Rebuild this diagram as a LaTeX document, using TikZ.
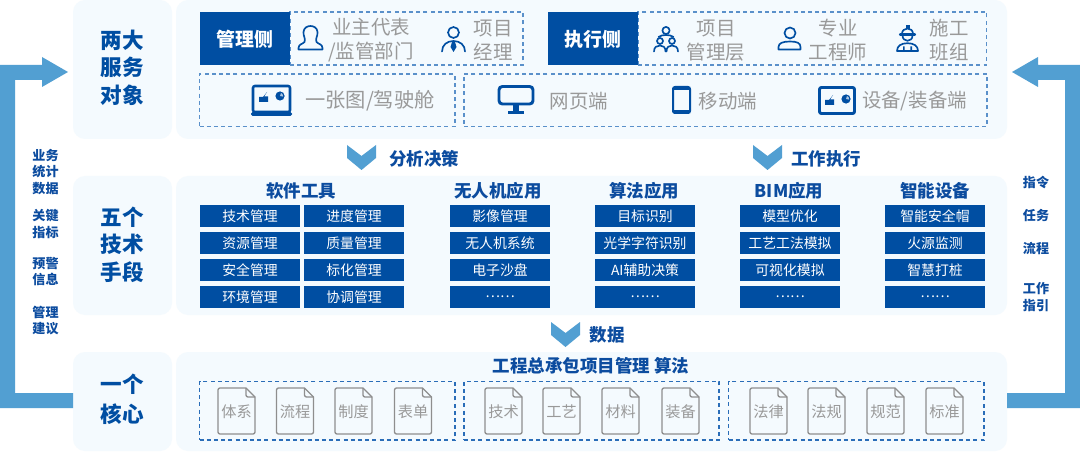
\documentclass[tikz,border=0pt]{standalone}
\usepackage{fontspec}
\setmainfont{Noto Sans CJK SC}
\usetikzlibrary{calc}
\definecolor{panelc}{HTML}{F4FAFE}
\definecolor{bluec}{HTML}{004EA2}
\definecolor{arrowc}{HTML}{529FD2}
\definecolor{greyc}{HTML}{999999}
\definecolor{docc}{HTML}{8E8E8E}
\definecolor{headc}{HTML}{0C4C9F}
\definecolor{dashc}{HTML}{5A90CA}
\definecolor{dashd}{HTML}{2A6DB8}
\newcommand\fpx[2]{\fontsize{#1}{#2}\selectfont}
\newcommand\rbox[6]{\node[#1,minimum width={(#5-#3)*0.75pt},minimum height={(#6-#4)*0.75pt}] (#2) at ({(#3+#5)/2},{(#4+#6)/2}) {};}
\newcommand\txt[5]{\node[#1] (#2) at (#3,#4) {#5};}
\newcommand\cellbox[4]{\node[cellnode,minimum width=75pt,minimum height=16.5pt] (#1) at (#2,#3) {#4};}
\newcommand\docicon[4]{% name, left x, top y, text
  \draw[docline] (#2+2,#3) -- (#2+28,#3) -- (#2+37,#3+9) -- (#2+37,#3+44) arc[start angle=0,end angle=90,radius=2] -- (#2+2,#3+46) arc[start angle=90,end angle=180,radius=2] -- (#2,#3+2) arc[start angle=180,end angle=270,radius=2] -- cycle;
  \draw[docline] (#2+28,#3) -- (#2+28,#3+7) arc[start angle=180,end angle=90,radius=2] -- (#2+37,#3+9);
  \node[doctext] (#1) at (#2+18.5,#3+24) {#4};
}
\newcommand\chartglyph[2]{% x,y = lower-left of stairs
  \fill[bluec] (#1,#2) -- (#1,#2-5) -- (#1+4,#2-5) -- (#1+8,#2-10) -- (#1+5,#2-5.5) -- (#1+9,#2-5.5) -- (#1+9,#2) -- cycle;
  \fill[bluec] (#1+21,#2-6) circle[radius=4.6];
  \fill[panelc!70!bluec] (#1+21,#2-6) -- ++(1,-3) arc[start angle=-70,end angle=10,radius=3.2] -- cycle;
}
\tikzset{
  x=0.75pt,y=-0.75pt,
  every node/.style={inner sep=0pt,outer sep=0pt},
  panelbox/.style={fill=panelc,rounded corners=9pt},
  dashbox/.style={draw=dashc,line width=0.8pt,dash pattern=on 3pt off 2.4pt},
  dashboxb/.style={draw=dashd,line width=0.8pt,dash pattern=on 3pt off 2.4pt},
  sidebox/.style={fill=bluec},
  sidetext/.style={text=white,font=\fpx{14.2pt}{16pt}\bfseries},
  titletext/.style={text=bluec,align=center,font=\fpx{16.2pt}{20.6pt}\bfseries},
  greytext/.style={text=greyc,align=center,font=\fpx{14.6pt}{18pt}},
  headtext/.style={text=headc,font=\fpx{13.1pt}{15pt}\bfseries},
  smalltext/.style={text=headc,align=center,font=\fpx{9.8pt}{12.2pt}\bfseries},
  cellnode/.style={fill=bluec,text=white,font=\fpx{10.4pt}{12pt}},
  docline/.style={draw=docc,line width=1pt,line join=round},
  doctext/.style={text=greyc,font=\fpx{11.4pt}{13pt}},
  icon/.style={draw=bluec,line width=1.25pt,line cap=round,line join=round},
}
\begin{document}
\begin{tikzpicture}
\useasboundingbox (0,0) rectangle (1080,452);
\fill[white] (0,0) rectangle (1080,452);
% panels
\rbox{panelbox}{serveL}{73}{0}{172}{139}
\rbox{panelbox}{serveR}{176}{0}{1007}{139}
\rbox{panelbox}{techL}{73}{176}{172}{315}
\rbox{panelbox}{techR}{176}{176}{1007}{315}
\rbox{panelbox}{coreL}{73}{352}{172}{451}
\rbox{panelbox}{coreR}{176}{352}{1007}{451}
% big arrows
\fill[arrowc] (coreL.west |- 0,393) -- (15,393) -- (15,80) -- (42,80) -- (42,87) -- (68,72) -- (42,57) -- (42,65) -- (0,65) -- (0,408) -- (coreL.west |- 0,408) -- cycle;
\fill[arrowc] (coreR.east |- 0,393) -- (1065,393) -- (1065,80) -- (1038,80) -- (1038,87) -- (1012,72) -- (1038,57) -- (1038,65) -- (1080,65) -- (1080,408) -- (coreR.east |- 0,408) -- cycle;
% chevrons
\fill[arrowc] (347,145) -- (361.5,156) -- (376,145) -- (376,158) -- (361.5,170) -- (347,158) -- cycle;
\fill[arrowc] (753,145) -- (767.5,156) -- (782,145) -- (782,158) -- (767.5,170) -- (753,158) -- cycle;
\fill[arrowc] (551,322) -- (565.5,333) -- (580,322) -- (580,335) -- (565.5,347) -- (551,335) -- cycle;
% left titles
\txt{titletext}{tA}{122}{67.5}{两大\\服务\\对象}
\txt{titletext}{tB}{122}{244.5}{五个\\技术\\手段}
\node[titletext,font=\fpx{16.2pt}{22.5pt}\bfseries] (tC) at (122,399) {一个\\核心};
% top row
\rbox{dashbox}{mgmtbox}{290}{12}{523}{65}
\rbox{dashbox}{execbox}{638}{12}{986.5}{65}
\node[sidebox,minimum width=67.5pt,minimum height=39.75pt] (mgmt) at (245,38.5) {};
\node[sidebox,minimum width=67.5pt,minimum height=39.75pt] (exec) at (593,38.5) {};
\txt{sidetext}{mgmtT}{245}{39}{管理侧}
\txt{sidetext}{execT}{593}{39}{执行侧}
\txt{greytext}{g1}{371}{40.5}{业主代表\\/监管部门}
\txt{greytext}{g2}{493}{40.5}{项目\\经理}
\txt{greytext}{g3}{716}{40.5}{项目\\管理层}
\txt{greytext}{g4}{838}{40.5}{专业\\工程师}
\txt{greytext}{g5}{949}{40.5}{施工\\班组}
% second row
\rbox{dashbox}{termA}{199.5}{74}{455}{126.5}
\rbox{dashbox}{termB}{464}{74}{987}{126.5}
\node[greytext,font=\fpx{15.2pt}{18pt}] (s1) at (370,100.5) {一张图/驾驶舱};
\txt{greytext}{s2}{579}{101}{网页端}
\txt{greytext}{s3}{728}{101}{移动端}
\txt{greytext}{s4}{914.5}{101}{设备/装备端}
% person icons
\draw[icon] (304.5,42) .. controls (306,38.5) and (303,36) .. (303.5,32) .. controls (304,24) and (317,24) .. (317.5,32) .. controls (318,36) and (315,38.5) .. (316.5,42) .. controls (318,44) and (322.5,44) .. (322.5,48) -- (322.5,49.5) -- (298.5,49.5) -- (298.5,48) .. controls (298.5,44) and (303,44) .. (304.5,42) -- cycle;
\draw[icon] (453.5,32.5) circle[radius=5.5];
\draw[icon] (442,51.5) .. controls (442,45) and (447,41) .. (453.5,41) .. controls (460,41) and (465,45) .. (465,51.5);
\fill[bluec] (452.3,41) -- (454.7,41) -- (456.5,47) -- (453.5,52) -- (450.5,47) -- cycle;
% three people
\draw[icon] (666,30.5) circle[radius=3.6];
\draw[icon] (660,41) circle[radius=3];
\draw[icon] (672,41) circle[radius=3];
\draw[icon] (654,51.5) .. controls (654,47) and (657,45.5) .. (660,45.5) .. controls (663,45.5) and (665.5,47) .. (665.5,51.5);
\draw[icon] (666.5,51.5) .. controls (666.5,47) and (669,45.5) .. (672,45.5) .. controls (675,45.5) and (678,47) .. (678,51.5);
\draw[icon] (658.5,37) .. controls (660.5,35.5) and (663,35) .. (666,35) .. controls (669,35) and (671.5,35.5) .. (673.5,37);
% engineer
\draw[icon] (790,33) circle[radius=5.5];
\draw[icon] (778.5,49.5) -- (778.5,47) .. controls (778.5,43) and (783,41.5) .. (790,41.5) .. controls (797,41.5) and (800.5,43) .. (800.5,47) -- (800.5,49.5) -- cycle;
% worker
\fill[bluec] (905.5,25.5) rectangle (909.5,29);
\draw[icon] (902,34) .. controls (902,30.5) and (904.5,28.5) .. (907.5,28.5) .. controls (910.5,28.5) and (913,30.5) .. (913,34);
\draw[bluec,line width=1.6pt,line cap=round] (900,34.5) -- (915,34.5);
\draw[icon] (902.5,35.5) .. controls (902.5,42.5) and (912.5,42.5) .. (912.5,35.5);
\draw[icon] (897,51) .. controls (897,46) and (901,43.2) .. (907.5,43.2) .. controls (914,43.2) and (918,46) .. (918,51) -- cycle;
\fill[bluec] (903,46.5) rectangle (904.6,50) (910.4,46.5) rectangle (912,50);
% laptop
\draw[bluec,line width=1.9pt,rounded corners=1.5pt] (253,86) rectangle (290,112);
\fill[bluec,rounded corners=1.2pt] (251,112) rectangle (292,116);
\chartglyph{259}{102}
% monitor
\draw[bluec,line width=2.2pt,rounded corners=2.5pt] (499,86.5) rectangle (533,104);
\fill[bluec] (513,105) rectangle (519,111);
\fill[bluec] (508,111.5) rectangle (524,114);
% phone
\draw[bluec,line width=1.5pt,rounded corners=1.5pt] (673,87) rectangle (690,113);
\fill[bluec] (673,87) rectangle (690,90);
\fill[bluec] (673,110) rectangle (690,113);
% equipment
\draw[bluec,line width=2.2pt,rounded corners=1.5pt] (819.5,87.5) rectangle (854.5,113.5);
\chartglyph{825}{105}
% captions
\txt{headtext}{hA}{424}{159}{分析决策}
\txt{headtext}{hB}{826}{159}{工作执行}
\txt{headtext}{hC}{607}{335}{数据}
\txt{headtext}{hD}{591}{366}{工程总承包项目管理 算法}
\txt{headtext}{c1}{301}{191}{软件工具}
\txt{headtext}{c2}{498}{191}{无人机应用}
\txt{headtext}{c3}{644}{191}{算法应用}
\txt{headtext}{c4}{789}{191}{BIM应用}
\txt{headtext}{c5}{935}{191}{智能设备}
% cells
\cellbox{a1}{250}{216}{技术管理}
\cellbox{a2}{250}{243}{资源管理}
\cellbox{a3}{250}{270}{安全管理}
\cellbox{a4}{250}{297}{环境管理}
\cellbox{b1}{354}{216}{进度管理}
\cellbox{b2}{354}{243}{质量管理}
\cellbox{b3}{354}{270}{标化管理}
\cellbox{b4}{354}{297}{协调管理}
\cellbox{d1}{500}{216}{影像管理}
\cellbox{d2}{500}{243}{无人机系统}
\cellbox{d3}{500}{270}{电子沙盘}
\cellbox{d4}{500}{297}{……}
\cellbox{e1}{645}{216}{目标识别}
\cellbox{e2}{645}{243}{光学字符识别}
\cellbox{e3}{645}{270}{AI辅助决策}
\cellbox{e4}{645}{297}{……}
\cellbox{f1}{790}{216}{模型优化}
\cellbox{f2}{790}{243}{工艺工法模拟}
\cellbox{f3}{790}{270}{可视化模拟}
\cellbox{f4}{790}{297}{……}
\cellbox{h1}{935}{216}{智能安全帽}
\cellbox{h2}{935}{243}{火源监测}
\cellbox{h3}{935}{270}{智慧打桩}
\cellbox{h4}{935}{297}{……}
% side labels
\txt{smalltext}{la}{45.5}{172}{业务\\统计\\数据}
\txt{smalltext}{lb}{45.5}{224}{关键\\指标}
\txt{smalltext}{lc}{45.5}{271.5}{预警\\信息}
\txt{smalltext}{ld}{45.5}{320.5}{管理\\建议}
\txt{smalltext}{ra}{1036}{183}{指令}
\txt{smalltext}{rb}{1036}{216}{任务}
\txt{smalltext}{rc}{1036}{249}{流程}
\txt{smalltext}{rd}{1036}{297}{工作\\指引}
% core boxes
\rbox{dashboxb}{gA}{199.5}{381.5}{455}{440}
\rbox{dashboxb}{gB}{464}{381.5}{719}{440}
\rbox{dashboxb}{gC}{728.5}{381.5}{984}{440}
\docicon{k1}{218}{388}{体系}
\docicon{k2}{276.5}{388}{流程}
\docicon{k3}{335}{388}{制度}
\docicon{k4}{394.5}{388}{表单}
\docicon{k5}{485}{388}{技术}
\docicon{k6}{543}{388}{工艺}
\docicon{k7}{602}{388}{材料}
\docicon{k8}{662}{388}{装备}
\docicon{k9}{750}{388}{法律}
\docicon{k10}{808}{388}{法规}
\docicon{k11}{867}{388}{规范}
\docicon{k12}{926}{388}{标准}
\end{tikzpicture}
\end{document}
